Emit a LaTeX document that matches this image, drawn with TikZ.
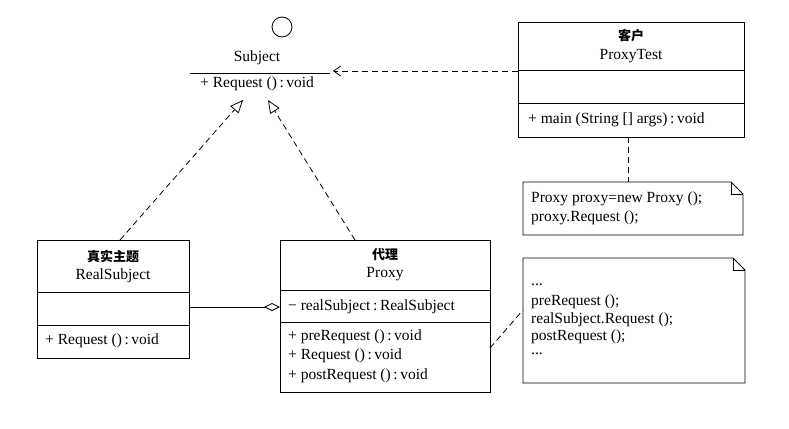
\documentclass[tikz,border=0pt]{standalone}
\usepackage{fontspec}
\setmainfont{Liberation Serif}
\newfontfamily\cjk{Noto Sans CJK SC}
\usetikzlibrary{arrows.meta}
\newcommand{\cl}{\,:\,}
\begin{document}
\begin{tikzpicture}[x=1pt,y=-1pt,font=\fontsize{15.5}{17}\selectfont,
  box/.style={draw,line width=0.8pt},
  dep/.style={draw,dashed,dash pattern=on 6pt off 4pt,line width=0.8pt},
  txt/.style={inner sep=0pt,anchor=west}]
\useasboundingbox[fill=white] (0,0) rectangle (789,428);
% Subject
\node[draw,circle,minimum size=20pt,inner sep=0pt,line width=0.8pt] (ic) at (282,27) {};
\node (subj) at (257,58) {Subject};
\draw[line width=0.8pt] (190,73) -- (330,73);
\node[txt] (subop) at (200,84) {+ Request ()\cl void};
\coordinate (subR) at (333,71);
\coordinate (subA) at (243,100);
\coordinate (subB) at (268,100);
% ProxyTest
\draw[box] (518,22) rectangle (744,137);
\draw[box] (518,70) -- (744,70) (518,103) -- (744,103);
\node (pt1) at (631,36) {\cjk\bfseries\fontsize{13}{15}\selectfont 客户};
\node (pt2) at (631,56) {ProxyTest};
\node[txt] (ptop) at (528,120) {+ main (String [] args)\cl void};
\coordinate (ptL) at (518,71);
\coordinate (ptB) at (628,137);
% Note1
\draw[box] (523,182) -- (731,182) -- (743,194) -- (743,235) -- (523,235) -- cycle;
\draw[box] (731,182) -- (731,194) -- (743,194);
\node[txt] (n1a) at (531,199) {Proxy proxy=new Proxy ();};
\node[txt] (n1b) at (531,218) {proxy.Request ();};
\coordinate (n1T) at (628,182);
% RealSubject
\draw[box] (37,240) rectangle (189,358);
\draw[box] (37,292) -- (189,292) (37,325) -- (189,325);
\node (rs1) at (113,256) {\cjk\bfseries\fontsize{13}{15}\selectfont 真实主题};
\node (rs2) at (113,276) {RealSubject};
\node[txt] (rsop) at (45,341) {+ Request ()\cl void};
\coordinate (rsT) at (120,240);
\coordinate (rsR) at (189,307);
% Proxy
\draw[box] (280,240) rectangle (490,392);
\draw[box] (280,290) -- (490,290) (280,322) -- (490,322);
\node (px1) at (385,255) {\cjk\bfseries\fontsize{13}{15}\selectfont 代理};
\node (px2) at (385,274) {Proxy};
\node[txt] (pxa) at (288,307) {− realSubject\cl RealSubject};
\node[txt] (pxo1) at (288,337) {+ preRequest ()\cl void};
\node[txt] (pxo2) at (288,356) {+ Request ()\cl void};
\node[txt] (pxo3) at (288,376) {+ postRequest ()\cl void};
\coordinate (pxT) at (355,240);
\coordinate (pxL) at (280,307);
\coordinate (pxR) at (490,348);
% Note2
\draw[box] (523,258) -- (733,258) -- (745,270) -- (745,383) -- (523,383) -- cycle;
\draw[box] (733,258) -- (733,270) -- (745,270);
\node[txt] (n2a) at (531,285) {...};
\node[txt] (n2b) at (531,302) {preRequest ();};
\node[txt] (n2c) at (531,320) {realSubject.Request ();};
\node[txt] (n2d) at (531,337) {postRequest ();};
\node[txt] (n2e) at (531,354) {...};
\coordinate (n2L) at (523,310);
% connectors
\draw[dep,-{Straight Barb[length=7pt,width=10pt]}] (ptL) -- (subR);
\draw[dep] (ptB) -- (n1T);
\draw[dep] (pxR) -- (n2L);
\draw[dep,-{Triangle[open,length=13pt,width=11pt,fill=white]}] (rsT) -- (subA);
\draw[dep,-{Triangle[open,length=13pt,width=11pt,fill=white]}] (pxT) -- (subB);
\draw[line width=0.8pt,-{Diamond[open,length=16pt,width=8pt,fill=white]}] (rsR) -- (pxL);
\end{tikzpicture}
\end{document}
